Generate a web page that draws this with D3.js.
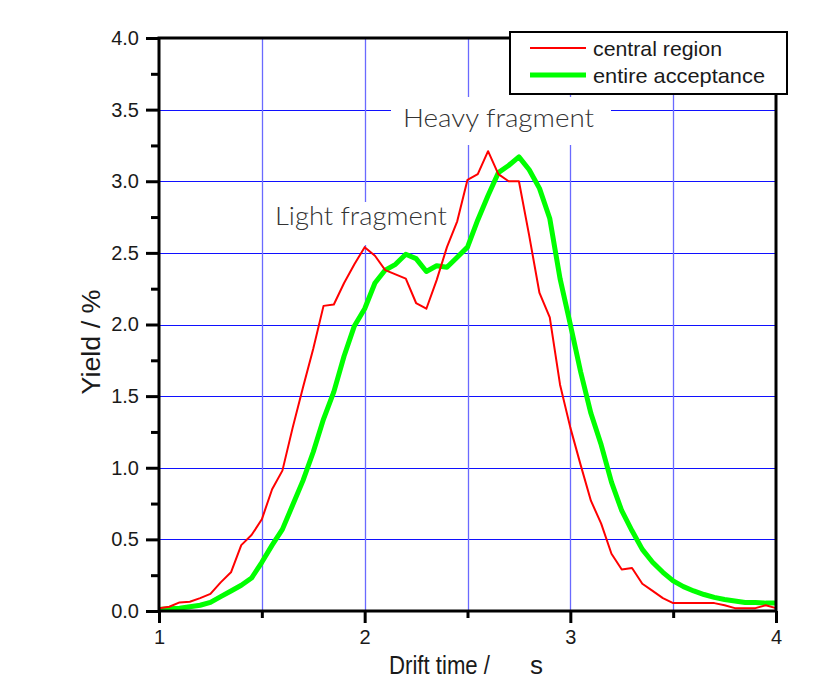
<!DOCTYPE html>
<html lang="en">
<head>
  <meta charset="UTF-8">
  <title>Drift time yield</title>
  <script src="https://d3js.org/d3.v7.min.js"></script>
  <style>
    body { margin: 0; background: #fff; }
    svg text { font-family: "Liberation Sans", Arial, sans-serif; fill: #1a1a1a; }
    .note { font-family: Lato, "DejaVu Sans", sans-serif; font-weight: 300; fill: #333; }
  </style>
</head>
<body>
<svg id="chart" width="823" height="680"></svg>
<script>
  // drift time samples (every 0.05)
  const driftTime = d3.range(61).map(i => +(1 + i * 0.05).toFixed(2));

  // central region, yield in %
  const centralRegion = [
    0.02, 0.03, 0.06, 0.065, 0.09, 0.12, 0.20, 0.27, 0.46, 0.53,
    0.64, 0.85, 0.98, 1.28, 1.56, 1.83, 2.13, 2.14, 2.29, 2.42,
    2.54, 2.48, 2.38, 2.35, 2.32, 2.15, 2.11, 2.31, 2.54, 2.72,
    3.01, 3.05, 3.21, 3.05, 3.00, 3.00, 2.62, 2.22, 2.05, 1.58,
    1.28, 1.02, 0.77, 0.61, 0.40, 0.29, 0.30, 0.19, 0.14, 0.09,
    0.055, 0.055, 0.055, 0.055, 0.055, 0.04, 0.02, 0.02, 0.02, 0.04,
    0.02
  ];

  // entire acceptance, yield in %
  const entireAcceptance = [
    0.01, 0.015, 0.02, 0.03, 0.04, 0.06, 0.10, 0.14, 0.18, 0.23,
    0.34, 0.46, 0.57, 0.74, 0.91, 1.11, 1.34, 1.53, 1.78, 1.99,
    2.11, 2.29, 2.38, 2.42, 2.49, 2.46, 2.37, 2.41, 2.40, 2.47,
    2.54, 2.73, 2.90, 3.06, 3.11, 3.17, 3.08, 2.95, 2.74, 2.32,
    2.00, 1.67, 1.38, 1.16, 0.90, 0.70, 0.56, 0.43, 0.34, 0.27,
    0.21, 0.17, 0.14, 0.115, 0.095, 0.08, 0.07, 0.06, 0.06, 0.055,
    0.055
  ];

  const xTicks = [1, 2, 3, 4];
  const xMinor = [1.5, 2.5, 3.5];
  const yTicks = [0, 0.5, 1, 1.5, 2, 2.5, 3, 3.5, 4];
  const yMinor = [0.25, 0.75, 1.25, 1.75, 2.25, 2.75, 3.25, 3.75];

  const plotL = 159, plotR = 776, plotT = 38, plotB = 611;

  const x = d3.scaleLinear().domain([1, 4]).range([plotL, plotR]);
  const y = d3.scaleLinear().domain([0, 4]).range([plotB, plotT]);

  const svg = d3.select("#chart");

  // grid
  const grid = svg.append("g");
  grid.selectAll(".gy").data(yTicks.slice(1, -1)).enter().append("line")
    .attr("x1", plotL).attr("x2", plotR)
    .attr("y1", d => Math.round(y(d)) + 0.5).attr("y2", d => Math.round(y(d)) + 0.5)
    .attr("stroke", "#1010ff").attr("stroke-width", 1);
  grid.selectAll(".gx").data([1.5, 2, 2.5, 3, 3.5]).enter().append("line")
    .attr("y1", plotT).attr("y2", plotB)
    .attr("x1", d => Math.round(x(d)) + 0.5).attr("x2", d => Math.round(x(d)) + 0.5)
    .attr("stroke", "#6a6aff").attr("stroke-width", 1.3);

  // annotation labels with white backing
  function note(txt, tx, ty, len, box) {
    svg.append("rect").attr("x", box[0]).attr("y", box[1])
      .attr("width", box[2] - box[0]).attr("height", box[3] - box[1])
      .attr("fill", "#fff");
    svg.append("text").attr("class", "note")
      .attr("x", tx).attr("y", ty)
      .attr("font-size", 25)
      .attr("textLength", len).attr("lengthAdjust", "spacingAndGlyphs")
      .text(txt);
  }
  note("Light fragment", 275, 225, 172, [268, 202, 452, 245]);
  note("Heavy fragment", 403, 127, 191, [391, 97, 611, 145]);

  // curves
  const line = vals => d3.line()
    .x((d, i) => x(driftTime[i]))
    .y(d => y(d))(vals);

  svg.append("path").attr("d", line(entireAcceptance))
    .attr("fill", "none").attr("stroke", "#00ff00")
    .attr("stroke-width", 5).attr("stroke-linejoin", "round");
  svg.append("path").attr("d", line(centralRegion))
    .attr("fill", "none").attr("stroke", "#ff0000")
    .attr("stroke-width", 2).attr("stroke-linejoin", "round");

  // axes
  const yAxis = svg.append("g").attr("transform", `translate(${plotL},0)`)
    .call(d3.axisLeft(y).tickValues(yTicks).tickSize(13).tickPadding(7)
      .tickFormat(d3.format(".1f")));
  const yAxisMinor = svg.append("g").attr("transform", `translate(${plotL},0)`)
    .call(d3.axisLeft(y).tickValues(yMinor).tickSize(8).tickFormat(""));
  const xAxis = svg.append("g").attr("transform", `translate(0,${plotB})`)
    .call(d3.axisBottom(x).tickValues(xTicks).tickSize(12).tickPadding(7)
      .tickFormat(d3.format("d")));
  const xAxisMinor = svg.append("g").attr("transform", `translate(0,${plotB})`)
    .call(d3.axisBottom(x).tickValues(xMinor).tickSize(7).tickFormat(""));

  [yAxis, yAxisMinor, xAxis, xAxisMinor].forEach(g => {
    g.select(".domain").remove();
    g.selectAll(".tick line").attr("stroke", "#000").attr("stroke-width", 3);
    g.selectAll(".tick text").attr("font-size", 20)
      .attr("font-family", "Liberation Sans, Arial, sans-serif").attr("fill", "#1a1a1a");
  });

  // frame
  svg.append("rect").attr("x", plotL).attr("y", plotT)
    .attr("width", plotR - plotL).attr("height", plotB - plotT)
    .attr("fill", "none").attr("stroke", "#000").attr("stroke-width", 3);

  // axis titles
  svg.append("text").attr("x", 389).attr("y", 674).attr("font-size", 26)
    .attr("textLength", 101).attr("lengthAdjust", "spacingAndGlyphs")
    .text("Drift time /");
  svg.append("text").attr("x", 530).attr("y", 674).attr("font-size", 26)
    .text("s");
  svg.append("text")
    .attr("transform", "translate(100,342) rotate(-90)")
    .attr("text-anchor", "middle").attr("font-size", 26)
    .attr("textLength", 105).attr("lengthAdjust", "spacingAndGlyphs")
    .text("Yield / %");

  // legend
  const legend = svg.append("g");
  legend.append("rect").attr("x", 510).attr("y", 32).attr("width", 277).attr("height", 62)
    .attr("fill", "#fff").attr("stroke", "#000").attr("stroke-width", 2);
  const entries = [
    { name: "central region", color: "#ff0000", w: 2, len: 129 },
    { name: "entire acceptance", color: "#00ff00", w: 5, len: 172 }
  ];
  entries.forEach((e, i) => {
    const ly = 48 + i * 27;
    legend.append("line").attr("x1", 530).attr("x2", 586).attr("y1", ly).attr("y2", ly)
      .attr("stroke", e.color).attr("stroke-width", e.w);
    legend.append("text").attr("x", 593).attr("y", ly + 8).attr("font-size", 21)
      .attr("textLength", e.len).attr("lengthAdjust", "spacingAndGlyphs")
      .text(e.name);
  });
</script>
</body>
</html>
